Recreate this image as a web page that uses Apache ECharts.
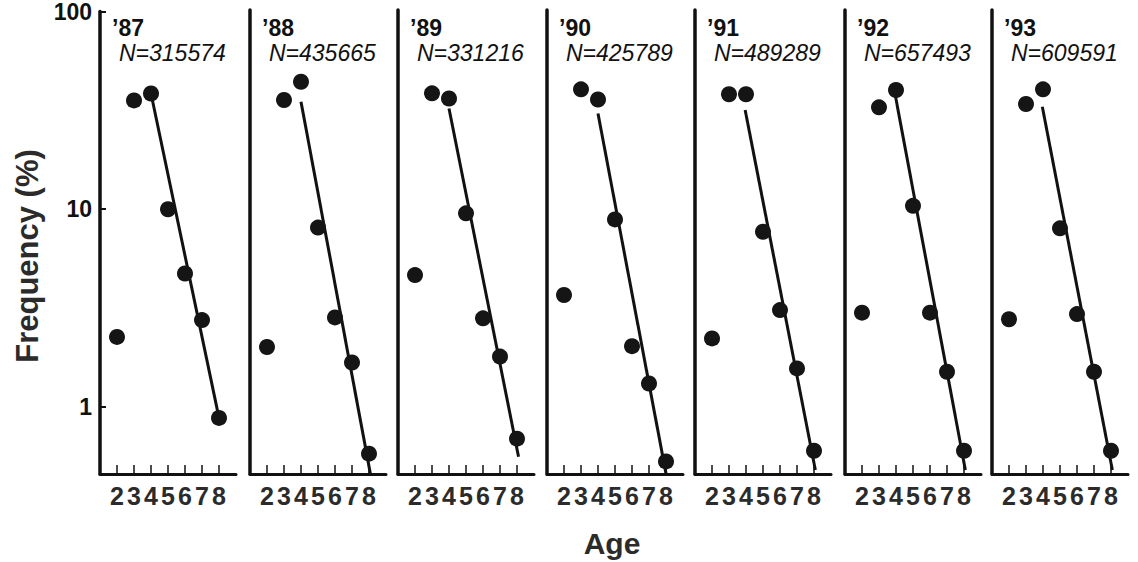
<!DOCTYPE html>
<html>
<head>
<meta charset="utf-8">
<script src="https://cdn.jsdelivr.net/npm/echarts@6/dist/echarts.min.js"></script>
<style>
  html, body { margin: 0; padding: 0; background: #fff; }
  #chart { width: 1138px; height: 562px; }
</style>
</head>
<body>
<div id="chart"></div>
<script>
// ---- data ----
const ages = [2, 3, 4, 5, 6, 7, 8];
const xTickLabels = ['2', '3', '4', '5', '6', '7', '8'];
const yTickLabels = ['1', '10', '100'];
const years = ['’87', '’88', '’89', '’90', '’91', '’92', '’93'];
const sampleSizes = ['N=315574', 'N=435665', 'N=331216', 'N=425789', 'N=489289', 'N=657493', 'N=609591'];

const freq87 = [2.26, 35.5, 38.5, 10.0, 4.73, 2.75, 0.88];
const freq88 = [2.0, 35.2, 43.5, 8.0, 2.82, 1.67, 0.58];
const freq89 = [4.61, 38.0, 35.8, 9.44, 2.79, 1.79, 0.69];
const freq90 = [3.66, 39.8, 35.4, 8.8, 2.02, 1.31, 0.53];
const freq91 = [2.21, 37.6, 37.6, 7.62, 3.07, 1.56, 0.60];
const freq92 = [2.98, 32.3, 39.5, 10.3, 2.98, 1.50, 0.60];
const freq93 = [2.76, 33.6, 39.8, 7.93, 2.93, 1.50, 0.60];

// regression line end points [age, frequency]
const fit87 = [[4, 38.5], [8, 0.88]];
const fit88 = [[4, 34.5], [8.08, 0.46]];
const fit89 = [[4, 31.9], [8.09, 0.56]];
const fit90 = [[4, 30.1], [8.0, 0.46]];
const fit91 = [[3.95, 31.3], [8.08, 0.48]];
const fit92 = [[3.92, 38.7], [8.08, 0.48]];
const fit93 = [[3.96, 32.5], [8.08, 0.48]];

const allFreq = [freq87, freq88, freq89, freq90, freq91, freq92, freq93];
const allFit = [fit87, fit88, fit89, fit90, fit91, fit92, fit93];

// ---- layout ----
const panelLefts = [100, 250, 398, 547, 695, 845, 992];
const panelWidth = 136;
const gridTop = 10;
const gridBottom = 88;
const ink = '#111';
const textInk = '#2b2b2b';
const fontFam = '"Liberation Sans", Arial, Helvetica, sans-serif';

const grids = [], xAxes = [], yAxes = [], series = [], graphics = [];

allFreq.forEach((freq, i) => {
  grids.push({ left: panelLefts[i], width: panelWidth, top: gridTop, bottom: gridBottom, containLabel: false });
  xAxes.push({
    gridIndex: i, type: 'value', min: 1, max: 9, interval: 1,
    axisLine: { show: true, lineStyle: { color: ink, width: 3 } },
    axisTick: { show: true, inside: true, length: 9, lineStyle: { color: ink, width: 1.5 }, customValues: ages },
    axisLabel: {
      show: true, margin: 9, color: textInk, fontFamily: fontFam, fontWeight: 'bold', fontSize: 25,
      customValues: ages,
      formatter: v => { const k = ages.indexOf(Math.round(v)); return k >= 0 ? xTickLabels[k] : ''; }
    },
    splitLine: { show: false }
  });
  yAxes.push({
    gridIndex: i, type: 'log', logBase: 10, min: 0.458, max: 100,
    axisLine: { show: true, lineStyle: { color: ink, width: 3.5 } },
    axisTick: { show: i === 0, inside: true, length: 6, lineStyle: { color: ink, width: 2 } },
    axisLabel: {
      show: i === 0, margin: 8, color: '#111', fontFamily: fontFam, fontWeight: 'bold', fontSize: 23,
      showMinLabel: false,
      formatter: v => {
        const s = yTickLabels.find(t => Math.abs(Number(t) - v) < 1e-6 * Number(t));
        return s || '';
      }
    },
    splitLine: { show: false }
  });
  series.push({
    type: 'line', xAxisIndex: i, yAxisIndex: i,
    data: allFit[i], showSymbol: false, symbol: 'none',
    lineStyle: { color: ink, width: 3 }, z: 2, silent: true
  });
  series.push({
    type: 'scatter', xAxisIndex: i, yAxisIndex: i,
    data: ages.map((a, k) => [a, freq[k]]),
    symbol: 'circle', symbolSize: 16,
    itemStyle: { color: '#151515', opacity: 1 }, z: 3, silent: true
  });
  graphics.push({
    type: 'text', left: panelLefts[i] + 12, top: 16,
    style: { text: years[i], font: 'bold 23px ' + fontFam, fill: ink }
  });
  graphics.push({
    type: 'text', left: panelLefts[i] + 19, top: 41,
    style: { text: sampleSizes[i], font: 'italic 23px ' + fontFam, fill: ink }
  });
});

graphics.push({
  type: 'text', x: 27, y: 256, rotation: Math.PI / 2,
  style: { text: 'Frequency (%)', font: 'bold 31px ' + fontFam, fill: textInk, align: 'center', verticalAlign: 'middle' }
});
graphics.push({
  type: 'text', x: 612, y: 543,
  style: { text: 'Age', font: 'bold 30px ' + fontFam, fill: textInk, align: 'center', verticalAlign: 'middle' }
});

const chart = echarts.init(document.getElementById('chart'), null, { renderer: 'svg' });
chart.setOption({
  animation: false,
  backgroundColor: '#fff',
  grid: grids, xAxis: xAxes, yAxis: yAxes, series: series,
  graphic: graphics
});
</script>
</body>
</html>
